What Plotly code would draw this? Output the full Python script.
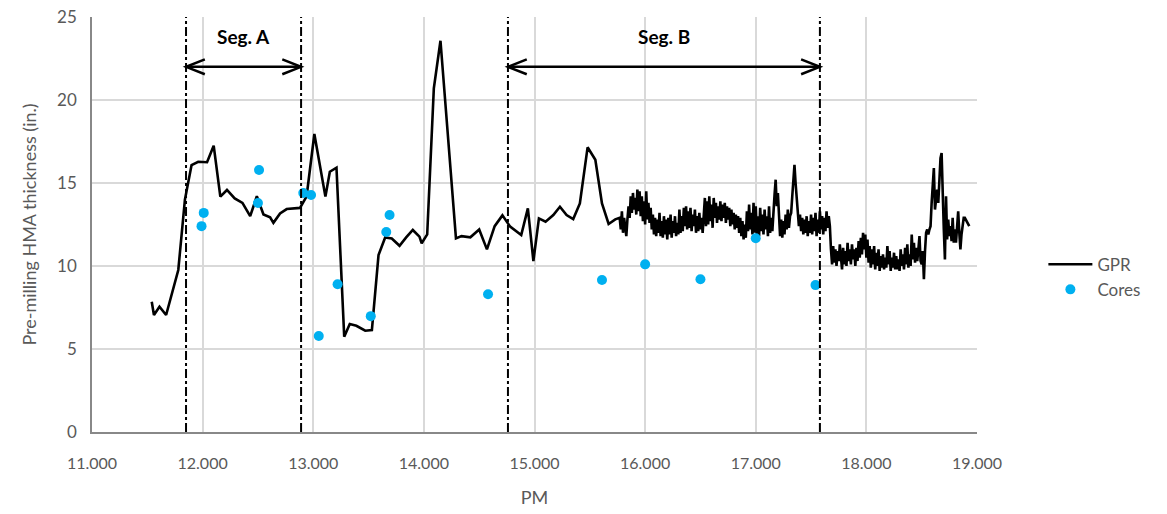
import plotly.graph_objects as go

# ---------------- data ----------------
gpr_pm_sparse = [11.54, 11.56, 11.61, 11.67, 11.78, 11.84, 11.90, 11.96, 12.04, 12.10,
                 12.16, 12.22, 12.29, 12.36, 12.43, 12.49, 12.55, 12.61, 12.64, 12.70,
                 12.76, 12.88, 12.94, 13.01, 13.11, 13.15, 13.21, 13.28, 13.33, 13.39,
                 13.47, 13.53, 13.59, 13.65, 13.71, 13.78, 13.84, 13.90, 13.96, 13.98,
                 14.03, 14.09, 14.15, 14.22, 14.29, 14.34, 14.42, 14.50, 14.57, 14.64,
                 14.71, 14.78, 14.88, 14.94, 14.99, 15.04, 15.10, 15.17, 15.23, 15.29,
                 15.35, 15.41, 15.48, 15.55, 15.61, 15.67, 15.73]
gpr_thk_sparse = [7.85, 7.05, 7.55, 7.05, 9.76, 14.0, 16.08, 16.28, 16.25, 17.25,
                  14.18, 14.58, 14.07, 13.8, 13.0, 14.2, 13.1, 12.93, 12.6, 13.17,
                  13.43, 13.5, 14.2, 17.95, 14.18, 15.68, 15.92, 5.74, 6.5, 6.4,
                  6.1, 6.14, 10.66, 11.72, 11.66, 11.22, 11.72, 12.17, 11.77, 11.37,
                  11.9, 20.7, 23.57, 17.6, 11.66, 11.8, 11.73, 12.2, 11.0, 12.4,
                  13.05, 12.37, 11.87, 13.47, 10.3, 12.87, 12.67, 13.07, 13.57, 13.07,
                  12.83, 13.77, 17.15, 16.4, 13.77, 12.53, 12.81]

gpr_pm_dense = [
    15.77, 15.78, 15.79, 15.80, 15.81, 15.82, 15.83, 15.84, 15.85, 15.86,
    15.87, 15.88, 15.89, 15.90, 15.91, 15.92, 15.93, 15.94, 15.95, 15.96,
    15.97, 15.98, 15.99, 16.00, 16.01, 16.02, 16.03, 16.04, 16.05, 16.06,
    16.07, 16.08, 16.09, 16.10, 16.11, 16.12, 16.13, 16.14, 16.15, 16.16,
    16.17, 16.18, 16.19, 16.20, 16.21, 16.22, 16.23, 16.24, 16.25, 16.26,
    16.27, 16.28, 16.29, 16.30, 16.31, 16.32, 16.33, 16.34, 16.35, 16.36,
    16.37, 16.38, 16.39, 16.40, 16.41, 16.42, 16.43, 16.44, 16.45, 16.46,
    16.47, 16.48, 16.49, 16.50, 16.51, 16.52, 16.53, 16.54, 16.55, 16.56,
    16.57, 16.58, 16.59, 16.60, 16.61, 16.62, 16.63, 16.64, 16.65, 16.66,
    16.67, 16.68, 16.69, 16.70, 16.71, 16.72, 16.73, 16.74, 16.75, 16.76,
    16.77, 16.78, 16.79, 16.80, 16.81, 16.82, 16.83, 16.84, 16.85, 16.86,
    16.87, 16.88, 16.89, 16.90, 16.91, 16.92, 16.93, 16.94, 16.95, 16.96,
    16.97, 16.98, 16.99, 17.00, 17.01, 17.02, 17.03, 17.04, 17.05, 17.06,
    17.07, 17.08, 17.09, 17.10, 17.11, 17.12, 17.13, 17.14, 17.15, 17.16,
    17.17, 17.18, 17.19, 17.20, 17.21, 17.22, 17.23, 17.24, 17.25, 17.26,
    17.27, 17.28, 17.29, 17.30, 17.31, 17.32, 17.33, 17.34, 17.35, 17.36,
    17.37, 17.38, 17.39, 17.40, 17.41, 17.42, 17.43, 17.44, 17.45, 17.46,
    17.47, 17.48, 17.49, 17.50, 17.51, 17.52, 17.53, 17.54, 17.55, 17.56,
    17.57, 17.58, 17.59, 17.60, 17.61, 17.62, 17.63, 17.64, 17.65, 17.66,
    17.67, 17.68, 17.69, 17.70, 17.71, 17.72, 17.73, 17.74, 17.75, 17.76,
    17.77, 17.78, 17.79, 17.80, 17.81, 17.82, 17.83, 17.84, 17.85, 17.86,
    17.87, 17.88, 17.89, 17.90, 17.91, 17.92, 17.93, 17.94, 17.95, 17.96,
    17.97, 17.98, 17.99, 18.00, 18.01, 18.02, 18.03, 18.04, 18.05, 18.06,
    18.07, 18.08, 18.09, 18.10, 18.11, 18.12, 18.13, 18.14, 18.15, 18.16,
    18.17, 18.18, 18.19, 18.20, 18.21, 18.22, 18.23, 18.24, 18.25, 18.26,
    18.27, 18.28, 18.29, 18.30, 18.31, 18.32, 18.33, 18.34, 18.35, 18.36,
    18.37, 18.38, 18.39, 18.40, 18.41, 18.42, 18.43, 18.44, 18.45, 18.46,
    18.47, 18.48, 18.49, 18.50, 18.51, 18.52, 18.53, 18.54, 18.55, 18.56,
    18.57, 18.58, 18.59, 18.60, 18.61, 18.62, 18.63, 18.64, 18.65, 18.66,
    18.67, 18.68, 18.69, 18.70, 18.71, 18.72, 18.73, 18.74, 18.75, 18.76,
    18.77, 18.78, 18.79, 18.80, 18.81, 18.82, 18.83, 18.84, 18.85, 18.86,
    18.87, 18.88, 18.89, 18.93]
gpr_thk_dense = [
    12.9, 12.2, 13.3, 12.0, 12.9, 12.4, 11.8, 12.8, 13.6, 12.9,
    14.2, 13.2, 14.4, 13.4, 14.1, 13.1, 14.6, 13.3, 14.5, 13.0,
    14.2, 12.7, 13.9, 12.5, 14.5, 12.8, 13.8, 12.6, 13.5, 12.2,
    13.1, 11.9, 12.9, 11.8, 12.8, 12.0, 13.2, 11.8, 12.7, 11.7,
    13.0, 11.9, 12.8, 11.6, 12.9, 11.9, 13.1, 11.7, 12.7, 12.0,
    13.0, 11.8, 12.6, 11.9, 13.4, 12.0, 13.0, 12.1, 13.5, 12.4,
    13.6, 12.2, 13.3, 12.3, 13.5, 12.1, 13.1, 12.4, 13.4, 12.0,
    13.0, 12.1, 13.2, 12.2, 12.9, 12.0, 13.3, 14.1, 12.4, 13.9,
    12.5, 14.2, 12.7, 13.7, 12.3, 14.1, 12.9, 13.8, 12.6, 13.6,
    12.8, 13.9, 12.7, 13.7, 12.9, 13.8, 12.6, 13.6, 12.8, 13.5,
    12.4, 13.4, 12.5, 13.2, 12.2, 13.1, 12.3, 13.0, 12.0, 12.9,
    11.8, 12.7, 11.6, 12.5, 11.7, 13.3, 12.1, 13.7, 12.2, 13.2,
    11.9, 13.8, 12.0, 13.6, 11.9, 13.0, 11.8, 13.5, 12.1, 13.1,
    11.9, 13.4, 12.2, 13.0, 11.8, 13.6, 12.0, 12.9, 12.1, 13.7,
    14.3, 15.2, 13.6, 14.4, 12.7, 11.8, 12.8, 11.7, 12.7, 11.9,
    13.1, 12.2, 13.4, 12.3, 13.0, 13.2, 14.2, 15.4, 16.1, 15.0,
    13.9, 13.1, 12.4, 13.1, 12.1, 12.9, 11.9, 12.8, 12.0, 13.0,
    11.8, 12.7, 12.0, 13.1, 11.9, 12.9, 12.1, 13.2, 11.8, 12.8,
    12.0, 13.3, 12.2, 13.0, 11.9, 12.9, 12.1, 13.3, 12.3, 13.0,
    12.4, 11.0, 10.1, 11.2, 10.2, 11.0, 10.0, 10.9, 10.3, 11.3,
    10.2, 9.8, 11.1, 10.1, 10.9, 10.0, 11.4, 10.3, 11.0, 10.1,
    11.3, 10.4, 11.0, 10.0, 11.1, 10.3, 11.5, 10.5, 11.7, 10.7,
    12.0, 11.0, 11.9, 10.5, 11.6, 10.2, 11.2, 9.9, 11.0, 10.1,
    11.2, 9.8, 10.8, 10.0, 11.0, 9.7, 10.6, 9.9, 10.7, 9.8,
    10.5, 9.9, 11.2, 10.1, 10.9, 9.7, 10.5, 9.9, 10.8, 9.8,
    10.6, 9.8, 10.4, 9.7, 11.0, 10.0, 10.7, 9.8, 11.1, 10.1,
    11.3, 9.9, 10.7, 10.0, 11.9, 10.4, 11.4, 10.2, 11.1, 10.3,
    11.0, 11.8, 10.3, 10.1, 10.9, 9.2, 10.9, 12.0, 12.2, 11.9,
    12.2, 12.4, 13.8, 15.2, 15.9, 13.4, 14.2, 14.6, 13.8, 15.5,
    16.5, 16.8, 14.0, 12.2, 10.4, 14.2, 11.6, 12.8, 11.8, 12.4,
    11.5, 12.9, 11.4, 12.2, 11.4, 12.6, 13.3, 12.0, 11.0, 11.9,
    12.5, 12.9, 12.9, 12.4]

gpr_pm = gpr_pm_sparse + gpr_pm_dense
gpr_thk = gpr_thk_sparse + gpr_thk_dense

core_pm = [11.99, 12.01, 12.51, 12.50, 12.91, 12.98, 13.05, 13.22, 13.52,
           13.66, 13.69, 14.58, 15.61, 16.00, 16.50, 17.00, 17.54]
core_thk = [12.4, 13.2, 15.78, 13.8, 14.4, 14.28, 5.78, 8.9, 6.98,
            12.05, 13.07, 8.3, 9.16, 10.1, 9.2, 11.67, 8.85]

seg_bounds = [11.85, 12.89, 14.76, 17.58]
segments = [("Seg. A", 11.85, 12.89), ("Seg. B", 14.76, 17.58)]
arrow_level = 22.0
label_level = 23.8

x_ticks = [11, 12, 13, 14, 15, 16, 17, 18, 19]
y_ticks = [0, 5, 10, 15, 20, 25]

FONT = "Lato, 'Noto Sans', sans-serif"
GREY = "#595959"

fig = go.Figure()
fig.add_trace(go.Scatter(x=gpr_pm, y=gpr_thk, mode="lines", name="GPR",
                         line=dict(color="black", width=2.6)))
fig.add_trace(go.Scatter(x=core_pm, y=core_thk, mode="markers", name="Cores",
                         marker=dict(color="#00B0F0", size=10)))

shapes = []
for xb in seg_bounds:
    shapes.append(dict(type="line", xref="x", yref="y", x0=xb, x1=xb, y0=0, y1=25,
                       line=dict(color="black", width=2, dash="dashdot")))

hx = 0.17   # arrow head length in PM units
hy = 0.45   # arrow head half-height in inches
annotations = []
for label, a, b in segments:
    shapes.append(dict(type="line", xref="x", yref="y", x0=a, x1=b,
                       y0=arrow_level, y1=arrow_level,
                       line=dict(color="black", width=2.5)))
    shapes.append(dict(type="path", xref="x", yref="y",
                       path=f"M {a+hx},{arrow_level+hy} L {a},{arrow_level} L {a+hx},{arrow_level-hy}",
                       line=dict(color="black", width=2.5)))
    shapes.append(dict(type="path", xref="x", yref="y",
                       path=f"M {b-hx},{arrow_level+hy} L {b},{arrow_level} L {b-hx},{arrow_level-hy}",
                       line=dict(color="black", width=2.5)))
    annotations.append(dict(x=(a + b) / 2, y=label_level, xref="x", yref="y",
                            text=f"<b>{label}</b>", showarrow=False,
                            font=dict(family=FONT, size=19, color="black")))

fig.update_layout(
    width=1167, height=514,
    margin=dict(l=92, r=190, t=17, b=82, autoexpand=False),
    paper_bgcolor="white", plot_bgcolor="white",
    font=dict(family=FONT, size=16, color=GREY),
    shapes=shapes, annotations=annotations,
    showlegend=True,
    legend=dict(x=1.075, y=0.373, xanchor="left", yanchor="middle",
                font=dict(family=FONT, size=17, color=GREY),
                bgcolor="rgba(0,0,0,0)", tracegroupgap=8, itemwidth=44),
    xaxis=dict(range=[11, 19], tickvals=x_ticks,
               ticktext=[f"{v:.3f}" for v in x_ticks],
               showgrid=True, gridcolor="#D9D9D9", gridwidth=1.5,
               showline=True, linecolor="#888888", linewidth=1.5,
               zeroline=False, ticks="outside", ticklen=16, tickcolor="rgba(0,0,0,0)",
               automargin=False,
               title=dict(text="PM", font=dict(family=FONT, size=18, color=GREY), standoff=20),
               tickfont=dict(family=FONT, size=16, color=GREY)),
    yaxis=dict(range=[0, 25], tickvals=y_ticks,
               showgrid=True, gridcolor="#D9D9D9", gridwidth=1.5,
               showline=True, linecolor="#888888", linewidth=1.5,
               zeroline=False, ticks="outside", ticklen=10, tickcolor="rgba(0,0,0,0)",
               automargin=False,
               title=dict(text="Pre-milling HMA thickness (in.)",
                          font=dict(family=FONT, size=18, color=GREY), standoff=16),
               tickfont=dict(family=FONT, size=17, color=GREY)),
)

# remove the browser's default 8px body margin so the figure sits at the page origin
fig.write_html("out.html", config={"displayModeBar": False},
               post_script="document.body.style.margin='0';document.body.style.overflow='hidden';")
